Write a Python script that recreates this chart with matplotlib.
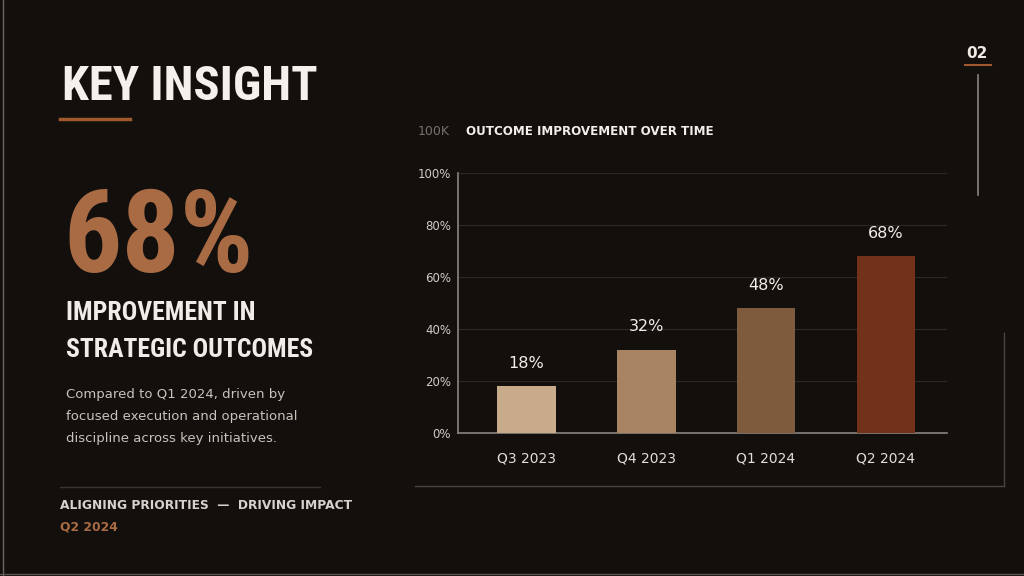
import matplotlib
matplotlib.use("Agg")
import matplotlib.pyplot as plt
from matplotlib import font_manager
from matplotlib.lines import Line2D

# data
quarters = ["Q3 2023", "Q4 2023", "Q1 2024", "Q2 2024"]
improvement = [18, 32, 48, 68]
y_ticks = [0, 20, 40, 60, 80, 100]
bar_colors = ["#c8ab8b", "#a98463", "#7f5b3e", "#72321a"]

BG = "#120f0d"
ORANGE = "#a86b43"

# pick a condensed face if one is installed
names = {f.name for f in font_manager.fontManager.ttflist}
cond_family = "DejaVu Sans"
for cand in ["Roboto Condensed", "Liberation Sans Narrow", "Open Sans Condensed"]:
    if cand in names:
        cond_family = cand
        break

fig = plt.figure(figsize=(10.24, 5.76), dpi=100, facecolor=BG)

# left panel text
cond = dict(family=cond_family, fontstretch="condensed", fontweight="bold")
fig.text(62 / 1024, 1 - 100 / 576, "KEY INSIGHT", color="#f4f1ec",
         fontsize=35, va="baseline", **cond)
fig.add_artist(Line2D([60 / 1024, 130 / 1024], [1 - 119 / 576] * 2,
                      color="#a0582c", lw=2.5))
fig.text(63 / 1024, 1 - 272 / 576, "68%", color=ORANGE,
         fontsize=83, va="baseline", **cond)
fig.text(66 / 1024, 1 - 320 / 576, "IMPROVEMENT IN", color="#f0ede8",
         fontsize=18.5, va="baseline", **cond)
fig.text(66 / 1024, 1 - 357 / 576, "STRATEGIC OUTCOMES", color="#f0ede8",
         fontsize=18.5, va="baseline", **cond)
body = ["Compared to Q1 2024, driven by",
        "focused execution and operational",
        "discipline across key initiatives."]
for i, line in enumerate(body):
    fig.text(66 / 1024, 1 - (398 + 22 * i) / 576, line, color="#c9c2ba",
             fontsize=9.5, va="baseline")
fig.add_artist(Line2D([60 / 1024, 320 / 1024], [1 - 487 / 576] * 2,
                      color="#3a3430", lw=1))
fig.text(60 / 1024, 1 - 509 / 576, "ALIGNING PRIORITIES  —  DRIVING IMPACT",
         color="#d8d2cc", fontsize=8.8, fontweight="bold", va="baseline")
fig.text(60 / 1024, 1 - 531 / 576, "Q2 2024", color=ORANGE,
         fontsize=8.8, fontweight="bold", va="baseline")

# page number + side rule
fig.text(977 / 1024, 1 - 58 / 576, "02", color="#eeeae4", fontsize=11,
         fontweight="bold", ha="center", va="baseline")
fig.add_artist(Line2D([965 / 1024, 991 / 1024], [1 - 65 / 576] * 2,
                      color="#a0582c", lw=1.5))
fig.add_artist(Line2D([978 / 1024] * 2, [1 - 75 / 576, 1 - 195 / 576],
                      color="#8a8480", lw=1.2))

# chart frame lines
fig.add_artist(Line2D([415 / 1024, 1004 / 1024], [1 - 486 / 576] * 2,
                      color="#4a443e", lw=1))
fig.add_artist(Line2D([1004 / 1024] * 2, [1 - 333 / 576, 1 - 486 / 576],
                      color="#4a443e", lw=1))

# chart title
fig.text(418 / 1024, 1 - 135 / 576, "100K", color="#77716b", fontsize=9,
         va="baseline")
fig.text(466 / 1024, 1 - 135 / 576, "OUTCOME IMPROVEMENT OVER TIME",
         color="#f2eee9", fontsize=8.6, fontweight="bold", va="baseline")

ax = fig.add_axes([458 / 1024, 1 - 433 / 576, 489 / 1024, 260 / 576])
ax.set_facecolor(BG)
x = range(len(quarters))
bars = ax.bar(x, improvement, width=0.49, color=bar_colors, zorder=3)
for b, v in zip(bars, improvement):
    ax.text(b.get_x() + b.get_width() / 2, v + 6, f"{v}%", color="#f2eee9",
            fontsize=11.5, ha="center", va="bottom")

ax.set_xlim(-0.57, 3.51)
ax.set_ylim(0, 100)
ax.set_yticks(y_ticks)
ax.set_yticklabels([f"{t}%" for t in y_ticks])
ax.set_xticks(list(x))
ax.set_xticklabels(quarters)
ax.tick_params(axis="y", length=0, pad=5, labelsize=8.5, labelcolor="#d2cbc4")
ax.tick_params(axis="x", length=0, pad=13, labelsize=10, labelcolor="#e4ded8")
ax.grid(axis="y", color="#2c2824", lw=0.8, zorder=0)
for s in ["top", "right"]:
    ax.spines[s].set_visible(False)
for s in ["left", "bottom"]:
    ax.spines[s].set_color("#8a8480")
    ax.spines[s].set_linewidth(1.2)

# thin screenshot edges
fig.add_artist(Line2D([0.003, 0.003], [0, 1], color="#6a6560", lw=1))
fig.add_artist(Line2D([0, 1], [0.004, 0.004], color="#5a5550", lw=1))

fig.savefig("out.png", dpi=100, facecolor=BG)
